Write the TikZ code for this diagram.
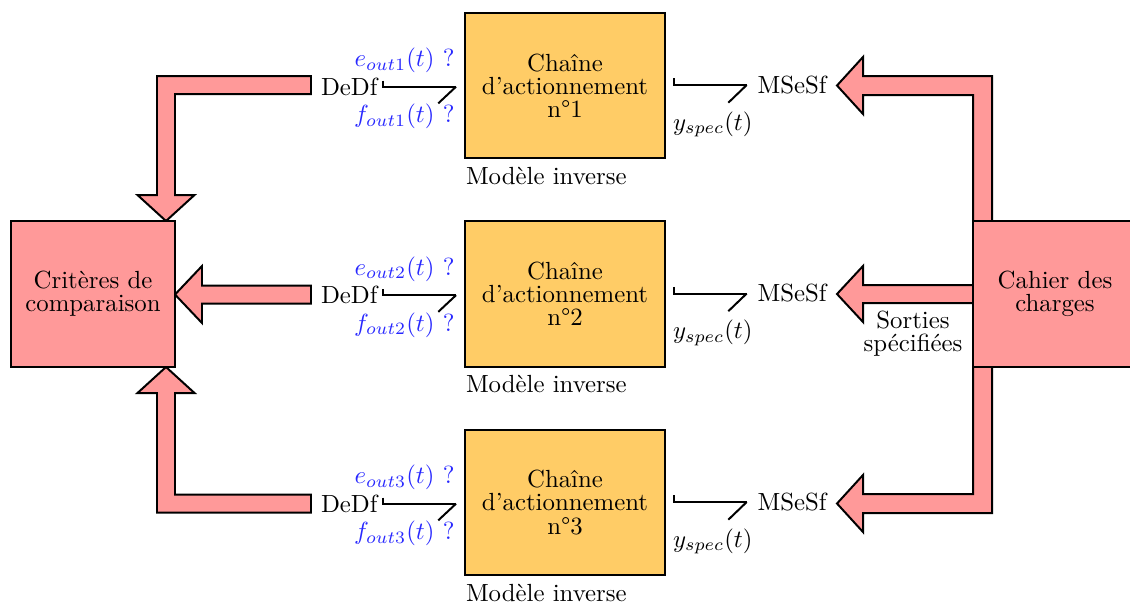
\documentclass[tikz,border=0pt]{standalone}
\usetikzlibrary{calc}
\definecolor{pinkf}{RGB}{255,153,153}
\definecolor{orangef}{RGB}{255,204,102}
\definecolor{bluet}{RGB}{40,40,255}
\begin{document}
\begin{tikzpicture}[x=0.4032pt,y=-0.4032pt,
  every node/.style={font=\fontsize{10}{9.3}\selectfont},
  chainbox/.style={draw=black,thick,fill=orangef,minimum width=80.6pt,minimum height=58.5pt,align=center,inner sep=0pt},
  pinkbox/.style={draw=black,thick,fill=pinkf,minimum width=66.1pt,minimum height=58.9pt,align=center,inner sep=0pt},
  fatarrow/.style={draw=black,thick,fill=pinkf,line join=miter},
  lbl/.style={inner sep=0pt},
  bluelbl/.style={inner sep=0pt,text=bluet},
  bond/.style={draw=black,thick}]
\useasboundingbox (0,0) rectangle (1130,606);

% right arrows (drawn below the right box)
\draw[fatarrow] (992,230) -- (992,76) -- (863,76) -- (863,57) -- (837,85.5) -- (863,114) -- (863,95) -- (973,95) -- (973,230) -- cycle;
\draw[fatarrow] (990,285) -- (863,285) -- (863,266) -- (837,294) -- (863,322) -- (863,303) -- (990,303) -- cycle;
\draw[fatarrow] (973,360) -- (973,494) -- (863,494) -- (863,475) -- (837,503.5) -- (863,532) -- (863,513) -- (992,513) -- (992,360) -- cycle;

% left arrows
\draw[fatarrow] (311,76) -- (157,76) -- (157,195) -- (137.5,195) -- (166,221) -- (194.5,195) -- (175,195) -- (175,94) -- (311,94) -- cycle;
\draw[fatarrow] (311,285.5) -- (202,285.5) -- (202,266) -- (175,294.5) -- (202,323) -- (202,303.5) -- (311,303.5) -- cycle;
\draw[fatarrow] (311,512.5) -- (157,512.5) -- (157,393) -- (137.5,393) -- (166,367) -- (194.5,393) -- (175,393) -- (175,494.5) -- (311,494.5) -- cycle;

% big boxes
\node[pinkbox] (crit) at (93,294) {Crit\`eres de\\comparaison};
\node[pinkbox] (cdc) at (1055,294) {Cahier des\\charges};
\node[lbl,align=center] (sorties) at (913,334) {Sorties\\sp\'ecifi\'ees};

\foreach \k/\dy in {1/0,2/208.5,3/417}{
  \node[chainbox] (ch\k) at (565,85.5+\dy) {Cha\^ine\\d'actionnement\\n\textdegree\k};
  \node[lbl,anchor=base west] (mi\k) at (465.5,184+\dy) {Mod\`ele inverse};
  \node[lbl,anchor=base west] (dedf\k) at (320.5,95+\dy) {DeDf};
  \node[lbl,anchor=base west] (msesf\k) at (757,93.3+\dy) {MSeSf};
  \node[bluelbl,anchor=base east] (e\k) at (455,66.5+\dy) {$e_{out\k}(t)$ ?};
  \node[bluelbl,anchor=base east] (f\k) at (455,122.5+\dy) {$f_{out\k}(t)$ ?};
  \node[lbl,anchor=base west] (y\k) at (672.5,130+\dy) {$y_{spec}(t)$};
  % bond DeDf -> chain
  \coordinate (bl\k) at (383.3,80.7+\dy);
  \coordinate (bc\k) at (383.3,86.7+\dy);
  \coordinate (be\k) at (456,86.7+\dy);
  \coordinate (bb\k) at (438.3,103.3+\dy);
  \draw[bond] (bl\k) -- (bc\k) -- (be\k);
  \draw[bond] (be\k) -- (bb\k);
  % bond chain -> MSeSf
  \coordinate (sl\k) at (673.5,78.3+\dy);
  \coordinate (sc\k) at (673.5,85+\dy);
  \coordinate (se\k) at (746.7,85+\dy);
  \coordinate (sb\k) at (728.3,102.7+\dy);
  \draw[bond] (sl\k) -- (sc\k) -- (se\k);
  \draw[bond] (se\k) -- (sb\k);
}
\end{tikzpicture}
\end{document}
